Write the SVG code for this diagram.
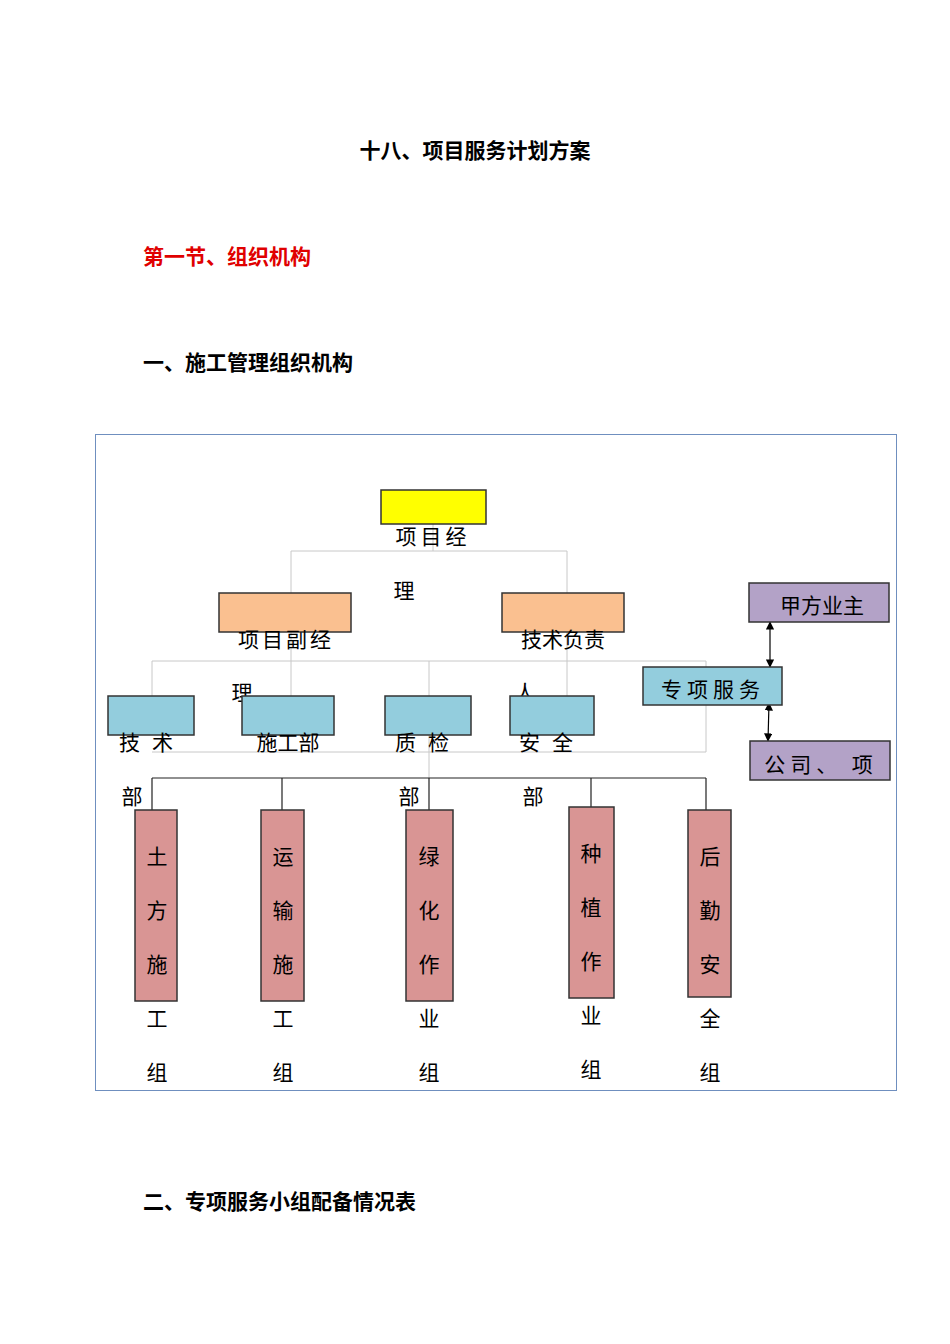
<svg xmlns="http://www.w3.org/2000/svg" width="950" height="1344" viewBox="0 0 950 1344">
<style>
text{font-family:"Noto Sans CJK SC","Noto Sans",sans-serif;fill:#000}
.h{font-size:21px;font-weight:bold}
.t{font-size:21px}
.b{stroke:#333;stroke-width:1.5}
.g{stroke:#c8c8c8;stroke-width:1;fill:none}
.k{stroke:#222;stroke-width:1.2;fill:none}
</style>
<defs><marker id="a" viewBox="0 0 10 10" refX="9" refY="5" markerWidth="7" markerHeight="7" orient="auto-start-reverse"><path d="M0,0L10,5L0,10z" fill="#000"/></marker></defs>
<rect width="950" height="1344" fill="#fff"/>
<text class="h" x="475" y="158" text-anchor="middle">十八、项目服务计划方案</text>
<text class="h" x="143" y="264" style="fill:#e00000">第一节、组织机构</text>
<text class="h" x="143" y="370">一、施工管理组织机构</text>
<text class="h" x="143" y="1209">二、专项服务小组配备情况表</text>
<rect x="95.5" y="434.5" width="801" height="656" fill="none" stroke="#6f8fbf" stroke-width="1"/>
<g id="connectors">
<path class="g" d="M433,524V551M291,551H567M291,551V593M567,551V593M152,661H706M152,661V696M291,632V696M429,661V778M567,632V696M706,661V752M152,752H706"/>
<path class="k" d="M152,778H706M152,778V810M282,778V810M429,778V810M591,778V807M706,778V810"/>
<line x1="770" y1="622" x2="770" y2="667" stroke="#000" stroke-width="1.2" marker-start="url(#a)" marker-end="url(#a)"/>
<line x1="769" y1="703" x2="768" y2="741" stroke="#000" stroke-width="1.2" marker-start="url(#a)" marker-end="url(#a)"/>
</g>
<g id="n1"><rect class="b" x="381" y="490" width="105" height="34" fill="#ffff00"/><text class="t" x="433" y="544" text-anchor="middle" letter-spacing="4">项目经</text><text class="t" x="404" y="598" text-anchor="middle">理</text></g>
<g id="n2"><rect class="b" x="219" y="593" width="132" height="39" fill="#fac090"/><text class="t" x="286" y="647" text-anchor="middle" letter-spacing="3">项目副经</text><text class="t" x="242" y="700" text-anchor="middle">理</text></g>
<g id="n3"><rect class="b" x="502" y="593" width="122" height="39" fill="#fac090"/><text class="t" x="563" y="647" text-anchor="middle">技术负责</text><text class="t" x="525" y="700" text-anchor="middle">人</text></g>
<g id="n4"><rect class="b" x="108" y="696" width="86" height="39" fill="#93cddd"/><text class="t" x="152" y="750" text-anchor="middle" letter-spacing="12">技术</text><text class="t" x="132" y="804" text-anchor="middle">部</text></g>
<g id="n5"><rect class="b" x="242" y="696" width="92" height="39" fill="#93cddd"/><text class="t" x="288" y="750" text-anchor="middle">施工部</text></g>
<g id="n6"><rect class="b" x="385" y="696" width="86" height="39" fill="#93cddd"/><text class="t" x="428" y="750" text-anchor="middle" letter-spacing="12">质检</text><text class="t" x="409" y="804" text-anchor="middle">部</text></g>
<g id="n7"><rect class="b" x="510" y="696" width="84" height="39" fill="#93cddd"/><text class="t" x="552" y="750" text-anchor="middle" letter-spacing="12">安全</text><text class="t" x="533" y="804" text-anchor="middle">部</text></g>
<g id="n8"><rect class="b" x="643" y="667" width="139" height="38" fill="#93cddd"/><text class="t" x="713" y="697" text-anchor="middle" letter-spacing="5">专项服务</text></g>
<g id="n9"><rect class="b" x="749" y="583" width="140" height="39" fill="#b3a2c7"/><text class="t" x="822" y="613" text-anchor="middle">甲方业主</text></g>
<g id="n10"><rect class="b" x="750" y="741" width="140" height="39" fill="#b3a2c7"/><text class="t" x="821" y="772" text-anchor="middle" letter-spacing="5">公司、 项</text></g>
<g id="n11"><rect class="b" x="135" y="810" width="42" height="191" fill="#d99594"/><text class="t" text-anchor="middle" x="157"><tspan x="157" y="864">土</tspan><tspan x="157" y="918">方</tspan><tspan x="157" y="972">施</tspan><tspan x="157" y="1026">工</tspan><tspan x="157" y="1080">组</tspan></text></g>
<g id="n12"><rect class="b" x="261" y="810" width="43" height="191" fill="#d99594"/><text class="t" text-anchor="middle"><tspan x="283" y="864">运</tspan><tspan x="283" y="918">输</tspan><tspan x="283" y="972">施</tspan><tspan x="283" y="1026">工</tspan><tspan x="283" y="1080">组</tspan></text></g>
<g id="n13"><rect class="b" x="406" y="810" width="47" height="191" fill="#d99594"/><text class="t" text-anchor="middle"><tspan x="429" y="864">绿</tspan><tspan x="429" y="918">化</tspan><tspan x="429" y="972">作</tspan><tspan x="429" y="1026">业</tspan><tspan x="429" y="1080">组</tspan></text></g>
<g id="n14"><rect class="b" x="569" y="807" width="45" height="191" fill="#d99594"/><text class="t" text-anchor="middle"><tspan x="591" y="861">种</tspan><tspan x="591" y="915">植</tspan><tspan x="591" y="969">作</tspan><tspan x="591" y="1023">业</tspan><tspan x="591" y="1077">组</tspan></text></g>
<g id="n15"><rect class="b" x="688" y="810" width="43" height="187" fill="#d99594"/><text class="t" text-anchor="middle"><tspan x="710" y="864">后</tspan><tspan x="710" y="918">勤</tspan><tspan x="710" y="972">安</tspan><tspan x="710" y="1026">全</tspan><tspan x="710" y="1080">组</tspan></text></g>
</svg>
